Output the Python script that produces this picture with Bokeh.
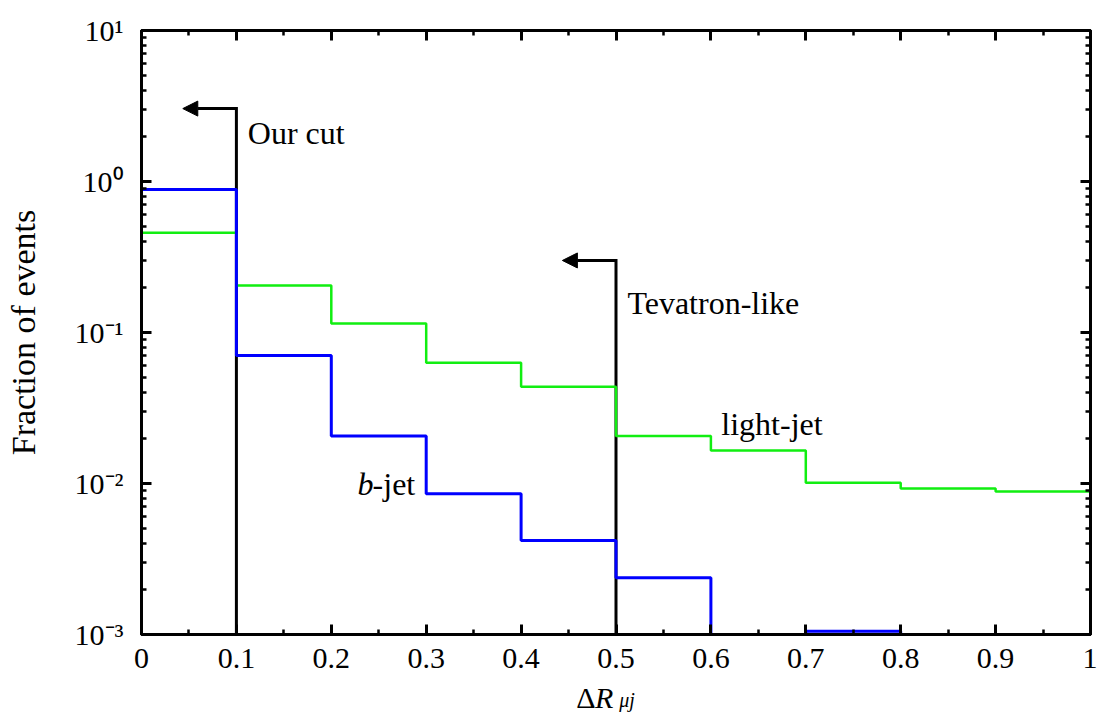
import numpy as np
from bokeh.plotting import figure
from bokeh.layouts import column
from bokeh.models import (LinearAxis, LogAxis, FixedTicker, CustomJSTickFormatter,
                          Range1d, Label, Arrow, NormalHead)
from bokeh.core.properties import value
from bokeh.embed import file_html
from bokeh.resources import INLINE

# ---------------- data ----------------
bin_edges = [0.0, 0.1, 0.2, 0.3, 0.4, 0.5, 0.6, 0.7, 0.8, 0.9, 1.0]
bjet = [0.885, 0.0705, 0.0206, 0.00855, 0.0042, 0.00238, 0.0, 0.00105, 0.0, 0.0]
lightjet = [0.457, 0.205, 0.1148, 0.063, 0.0438, 0.0206, 0.01656, 0.0101, 0.00927, 0.00885]

cut_x = [0.1, 0.5]
cut_top = [3.04, 0.30]
cut_arrow_end = [0.0435, 0.4435]
cut_names = ["Our cut", "Tevatron-like"]

x_major = [0.0, 0.1, 0.2, 0.3, 0.4, 0.5, 0.6, 0.7, 0.8, 0.9, 1.0]
x_minor = [0.05, 0.15, 0.25, 0.35, 0.45, 0.55, 0.65, 0.75, 0.85, 0.95]
y_major = [1e-3, 1e-2, 1e-1, 1e0, 1e1]
y_minor = [m * d for d in [1e-3, 1e-2, 1e-1, 1e0] for m in range(2, 10)]

YMIN, YMAX = 1e-3, 1e1
FLOOR = 1e-4  # empty bins drawn below the visible range

SERIF = "Liberation Serif"

p = figure(width=1097, height=680, x_range=Range1d(0, 1), y_range=Range1d(YMIN, YMAX),
           y_axis_type="log", output_backend="svg", toolbar_location=None,
           min_border_left=141, min_border_right=7, min_border_top=30,
           min_border_bottom=46, x_axis_location=None, y_axis_location=None)
p.grid.visible = False
p.outline_line_color = "black"
p.outline_line_width = 3
p.background_fill_color = "white"
p.border_fill_color = "white"

x_fmt = CustomJSTickFormatter(code="return String(Math.round(tick*10)/10);")
y_fmt = CustomJSTickFormatter(code="""
const e = Math.round(Math.log10(tick));
const sup = {"-": "\u207b", "0": "\u2070", "1": "\u00b9", "2": "\u00b2", "3": "\u00b3"};
return "10" + String(e).split("").map(c => sup[c]).join("");
""")
blank = CustomJSTickFormatter(code="return '';")


def style(ax):
    ax.axis_line_width = 3
    ax.axis_line_color = "black"
    ax.major_tick_line_width = 3
    ax.minor_tick_line_width = 2.5
    ax.major_tick_in = 10
    ax.major_tick_out = 0
    ax.minor_tick_in = 5
    ax.minor_tick_out = 0
    ax.major_label_text_font = SERIF
    ax.major_label_text_font_size = "30px"
    ax.major_label_text_color = "black"


bottom = LinearAxis(ticker=FixedTicker(ticks=x_major, minor_ticks=x_minor), formatter=x_fmt)
style(bottom)
bottom.major_label_standoff = 14
p.add_layout(bottom, "below")

top = LinearAxis(ticker=FixedTicker(ticks=x_major, minor_ticks=x_minor), formatter=blank)
style(top)
top.major_label_standoff = 0
p.add_layout(top, "above")

left = LogAxis(ticker=FixedTicker(ticks=y_major, minor_ticks=y_minor), formatter=y_fmt)
style(left)
left.major_label_standoff = 18
left.axis_label = "Fraction of events"
left.axis_label_text_font = SERIF
left.axis_label_text_font_size = "34px"
left.axis_label_text_font_style = "normal"
left.axis_label_text_color = "black"
left.axis_label_standoff = 30
p.add_layout(left, "left")

right = LogAxis(ticker=FixedTicker(ticks=y_major, minor_ticks=y_minor), formatter=blank)
style(right)
right.major_label_standoff = 0
p.add_layout(right, "right")

# cut lines with arrows
p.segment(x0=cut_x, y0=[YMIN] * len(cut_x), x1=cut_x, y1=cut_top,
          line_width=3, line_color="black", line_cap="square")
for cx, ct, ce in zip(cut_x, cut_top, cut_arrow_end):
    p.add_layout(Arrow(end=NormalHead(size=15, fill_color="black", line_color="black"),
                       x_start=cx, y_start=ct, x_end=ce, y_end=ct,
                       line_width=3, line_color="black"))

# histograms
def stepy(vals):
    v = [x if x > 0 else FLOOR for x in vals]
    return v + [v[-1]]

p.step(x=bin_edges, y=stepy(lightjet), mode="after", line_width=2.5, line_color="#11ee11")
p.step(x=bin_edges, y=stepy(bjet), mode="after", line_width=3, line_color="#0000ff")

# text annotations
def lab(x, y, t, size="32px", style="normal", baseline="middle"):
    p.add_layout(Label(x=x, y=y, text=t, text_font=SERIF, text_font_size=size,
                       text_font_style=style, text_baseline=baseline, text_align="left",
                       text_color="black"))

lab(0.112, 2.11, cut_names[0])
lab(0.512, 0.158, cut_names[1])
lab(0.611, 0.0249, "light-jet")
lab(0.2277, 0.0100, "b", style="italic")
lab(0.2435, 0.0100, "-jet")

# ---- x-axis title strip (ΔR_μj), sharing the x range ----
p2 = figure(width=1097, height=37, x_range=p.x_range, y_range=Range1d(0, 1),
            output_backend="svg", toolbar_location=None,
            min_border_left=141, min_border_right=7, min_border_top=0, min_border_bottom=0,
            x_axis_location=None, y_axis_location=None)
p2.grid.visible = False
p2.outline_line_color = None
p2.background_fill_color = "white"
p2.border_fill_color = "white"

def t2(x, y, t, size="30px", style="normal"):
    p2.text(x=[x], y=[y], text=[t], text_font=value(SERIF), text_font_size=size,
            text_font_style=style, text_baseline="alphabetic", text_align="left",
            text_color="black")

t2(0.458, 0.54, "\u0394")
t2(0.478, 0.54, "R", style="italic")
t2(0.5035, 0.46, "\u03bcj", size="20px", style="italic")

open("out.html", "w").write(file_html(column(p, p2, spacing=0), INLINE))
